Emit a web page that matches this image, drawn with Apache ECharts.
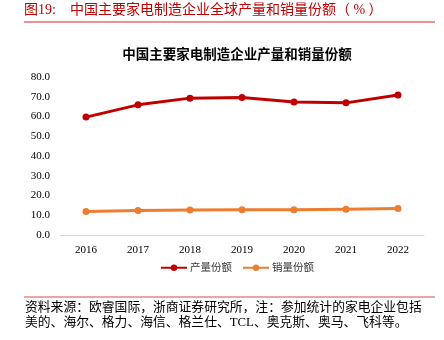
<!DOCTYPE html>
<html><head><meta charset="utf-8">
<script src="https://cdn.jsdelivr.net/npm/echarts@6/dist/echarts.min.js"></script>
<style>html,body{margin:0;padding:0;background:#fff}#c{width:444px;height:340px}</style>
</head><body><div id="c"></div>
<script>
const categories = ['2016','2017','2018','2019','2020','2021','2022'];
const productionShare = [59.7, 65.9, 69.3, 69.6, 67.4, 66.9, 70.9];
const salesShare = [11.9, 12.4, 12.7, 12.8, 12.8, 13.1, 13.4];
const seriesNames = ['产量份额', '销量份额'];
const F = '"Liberation Serif","Times New Roman","Noto Sans CJK SC",serif';
const chart = echarts.init(document.getElementById('c'));
chart.setOption({
  animation: false,
  backgroundColor: '#fff',
  title: {
    text: '中国主要家电制造企业产量和销量份额',
    left: 232, top: 44, textAlign: 'center',
    textStyle: {fontFamily: F, fontSize: 13.5, fontWeight: 'bold', color: '#000'}
  },
  graphic: [
    {type: 'text', left: 24, top: 3, style: {text: '图19:    中国主要家电制造企业全球产量和销量份额（ % ）', font: '14px ' + F, fill: '#C00000'}},
    {type: 'line', shape: {x1: 24, y1: 22, x2: 435, y2: 22}, style: {stroke: '#D42A2A', lineWidth: 1}},
    {type: 'line', shape: {x1: 24, y1: 297, x2: 435, y2: 297}, style: {stroke: '#E08A8A', lineWidth: 1.5}},
    {type: 'text', left: 25, top: 300, style: {text: '资料来源：欧睿国际，浙商证券研究所，注：参加统计的家电企业包括\n美的、海尔、格力、海信、格兰仕、TCL、奥克斯、奥马、飞科等。', font: '12.8px ' + F, fill: '#000', lineHeight: 15}}
  ],
  grid: {left: 60, right: 20, top: 77, bottom: 105},
  legend: {
    data: seriesNames, bottom: 62, left: 155, itemWidth: 26, itemHeight: 8, itemGap: 10,
    textStyle: {fontFamily: F, fontSize: 10.5, color: '#333', padding: [0, 0, 0, -2]}
  },
  xAxis: {
    type: 'category', data: categories, boundaryGap: true,
    axisLine: {lineStyle: {color: '#D9D9D9'}}, axisTick: {show: false},
    axisLabel: {fontFamily: F, fontSize: 11, color: '#000', margin: 10}
  },
  yAxis: {
    type: 'value', min: 0, max: 80, interval: 10,
    axisLine: {show: false}, axisTick: {show: false}, splitLine: {show: false},
    axisLabel: {fontFamily: F, fontSize: 11, color: '#000', formatter: v => v.toFixed(1), margin: 10}
  },
  series: [
    {name: seriesNames[0], type: 'line', data: productionShare, symbol: 'circle', symbolSize: 7,
     itemStyle: {color: '#C00000'}, lineStyle: {width: 3, color: '#C00000'}},
    {name: seriesNames[1], type: 'line', data: salesShare, symbol: 'circle', symbolSize: 7,
     itemStyle: {color: '#ED7D31'}, lineStyle: {width: 3, color: '#ED7D31'}}
  ]
});
</script></body></html>
